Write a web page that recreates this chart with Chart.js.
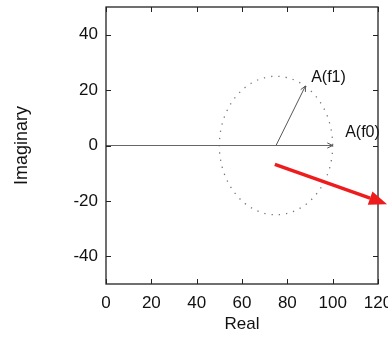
<!DOCTYPE html>
<html>
<head>
<meta charset="utf-8">
<script src="https://cdn.jsdelivr.net/npm/chart.js@4"></script>
<style>
  html, body { margin: 0; padding: 0; background: #fff; }
  #wrap { width: 388px; height: 337px; }
</style>
</head>
<body>
<div id="wrap"><canvas id="c"></canvas></div>
<script>
// axis ticks
const xTicks = [0, 20, 40, 60, 80, 100, 120];
const yTicks = [-40, -20, 0, 20, 40];

// phasors (real, imaginary)
const vectorF0 = [[0, 0], [100, 0]];
const vectorF1 = [[75, 0], [88, 21.5]];

// dotted locus
const circleCenter = [75, 0];
const circleRadius = 25;

// text labels and their anchor points
const labelText = ['A(f1)', 'A(f0)'];
const labelPos = [[90.5, 24.5], [105.5, 4.5]];

// red annotation arrow (runs past the frame)
const redArrow = [[74.5, -6.8], [124, -21.2]];

const FONT = 'Liberation Sans, Arial, Helvetica, sans-serif';

const toPts = arr => arr.map(p => ({ x: p[0], y: p[1] }));

function arrowHead(ctx, x0, y0, x1, y1, len, spread) {
  const a = Math.atan2(y1 - y0, x1 - x0);
  ctx.beginPath();
  ctx.moveTo(x1 - len * Math.cos(a - spread), y1 - len * Math.sin(a - spread));
  ctx.lineTo(x1, y1);
  ctx.lineTo(x1 - len * Math.cos(a + spread), y1 - len * Math.sin(a + spread));
  ctx.stroke();
}

const extras = {
  id: 'extras',
  beforeDatasetsDraw(chart) {
    const { ctx, scales: { x, y } } = chart;
    // dotted circle
    const cx = x.getPixelForValue(circleCenter[0]);
    const cy = y.getPixelForValue(circleCenter[1]);
    const rx = x.getPixelForValue(circleCenter[0] + circleRadius) - cx;
    const ry = cy - y.getPixelForValue(circleCenter[1] + circleRadius);
    ctx.save();
    ctx.strokeStyle = '#777';
    ctx.lineWidth = 1.3;
    ctx.setLineDash([1.3, 6]);
    ctx.beginPath();
    ctx.ellipse(cx, cy, rx, ry, 0, 0, Math.PI * 2);
    ctx.stroke();
    ctx.restore();
  },
  afterDatasetsDraw(chart) {
    const { ctx, chartArea: a, scales: { x, y } } = chart;
    ctx.save();

    // arrow heads on the phasors
    ctx.strokeStyle = '#555';
    ctx.lineWidth = 1;
    [vectorF0, vectorF1].forEach(v => {
      arrowHead(ctx,
        x.getPixelForValue(v[0][0]), y.getPixelForValue(v[0][1]),
        x.getPixelForValue(v[1][0]), y.getPixelForValue(v[1][1]), 6, 0.45);
    });

    // labels
    ctx.fillStyle = '#111';
    ctx.font = '16px ' + FONT;
    ctx.textAlign = 'left';
    ctx.textBaseline = 'middle';
    labelText.forEach((t, i) => {
      ctx.fillText(t, x.getPixelForValue(labelPos[i][0]), y.getPixelForValue(labelPos[i][1]));
    });

    // frame with inward ticks
    ctx.strokeStyle = '#222';
    ctx.lineWidth = 1.3;
    ctx.strokeRect(a.left, a.top, a.right - a.left, a.bottom - a.top);
    ctx.lineWidth = 1;
    ctx.beginPath();
    xTicks.forEach(v => {
      const px = Math.round(x.getPixelForValue(v)) + 0.5;
      ctx.moveTo(px, a.bottom); ctx.lineTo(px, a.bottom - 5);
      ctx.moveTo(px, a.top); ctx.lineTo(px, a.top + 5);
    });
    yTicks.forEach(v => {
      const py = Math.round(y.getPixelForValue(v)) + 0.5;
      ctx.moveTo(a.left, py); ctx.lineTo(a.left + 5, py);
      ctx.moveTo(a.right, py); ctx.lineTo(a.right - 5, py);
    });
    ctx.stroke();

    // red arrow
    const x0 = x.getPixelForValue(redArrow[0][0]);
    const y0 = y.getPixelForValue(redArrow[0][1]);
    const x1 = x.getPixelForValue(redArrow[1][0]);
    const y1 = y.getPixelForValue(redArrow[1][1]);
    const ang = Math.atan2(y1 - y0, x1 - x0);
    const hl = 18, hw = 7;
    const bx = x1 - hl * Math.cos(ang), by = y1 - hl * Math.sin(ang);
    ctx.strokeStyle = '#ee1c1c';
    ctx.fillStyle = '#ee1c1c';
    ctx.lineWidth = 3.5;
    ctx.beginPath();
    ctx.moveTo(x0, y0);
    ctx.lineTo(bx, by);
    ctx.stroke();
    ctx.beginPath();
    ctx.moveTo(x1, y1);
    ctx.lineTo(bx + hw * Math.sin(ang), by - hw * Math.cos(ang));
    ctx.lineTo(bx - hw * Math.sin(ang), by + hw * Math.cos(ang));
    ctx.closePath();
    ctx.fill();

    ctx.restore();
  }
};

new Chart(document.getElementById('c'), {
  type: 'scatter',
  data: {
    datasets: [
      {
        label: 'A(f0)',
        data: toPts(vectorF0),
        showLine: true,
        borderColor: '#666',
        borderWidth: 1,
        pointRadius: 0,
      },
      {
        label: 'A(f1)',
        data: toPts(vectorF1),
        showLine: true,
        borderColor: '#555',
        borderWidth: 1,
        pointRadius: 0,
      },
    ],
  },
  options: {
    responsive: true,
    maintainAspectRatio: false,
    animation: false,
    events: [],
    layout: { padding: { left: 0, right: 10, top: 7, bottom: 0 } },
    plugins: {
      legend: { display: false },
      tooltip: { enabled: false },
    },
    scales: {
      x: {
        type: 'linear',
        min: 0,
        max: 120,
        afterBuildTicks: s => { s.ticks = xTicks.map(v => ({ value: v })); },
        afterFit: s => { s.height = 53; s.paddingLeft = 0; s.paddingRight = 0; },
        grid: { display: false, drawTicks: false },
        border: { display: false },
        ticks: { padding: 9, color: '#111', font: { family: FONT, size: 17 }, maxRotation: 0, autoSkip: false },
        title: { display: true, text: 'Real', color: '#111', font: { family: FONT, size: 17 }, padding: { top: 0, bottom: 2 } },
      },
      y: {
        type: 'linear',
        min: -50,
        max: 50,
        afterBuildTicks: s => { s.ticks = yTicks.map(v => ({ value: v })); },
        afterFit: s => { s.width = 106; s.paddingTop = 0; s.paddingBottom = 0; },
        grid: { display: false, drawTicks: false },
        border: { display: false },
        ticks: { padding: 8, color: '#111', font: { family: FONT, size: 17 }, autoSkip: false },
        title: { display: true, text: 'Imaginary', color: '#111', font: { family: FONT, size: 18 }, padding: { top: 11, bottom: 0 } },
      },
    },
  },
  plugins: [extras],
});
</script>
</body>
</html>
